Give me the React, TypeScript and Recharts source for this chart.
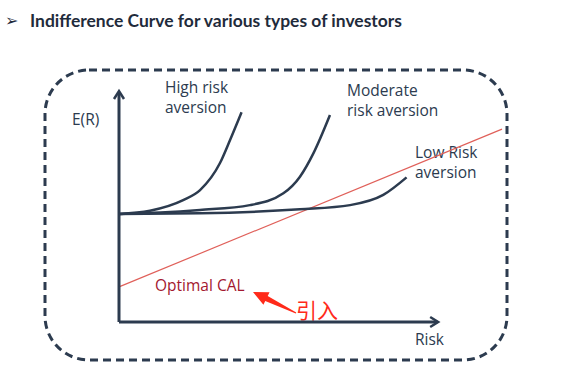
import { ComposedChart, Line, XAxis, YAxis, ReferenceLine, Customized } from 'recharts'

// risk (x) / expected return (y), arbitrary units
const riskHigh = [0, 0.97, 2.01, 2.54, 3.16, 3.48, 3.84]
const retHigh = [4.68, 4.82, 5.28, 5.71, 6.87, 7.88, 9.08]

const riskModerate = [0, 1.3, 2.54, 4.1, 5.15, 5.67, 6.09, 6.61]
const retModerate = [4.68, 4.74, 4.85, 5.06, 5.57, 6.29, 7.3, 8.96]

const riskLow = [0, 2.54, 5.67, 7.24, 8.28, 9.01]
const retLow = [4.68, 4.71, 4.88, 5.06, 5.5, 6.26]

const riskCal = [0, 12]
const retCal = [1.52, 8.35]

const zip = (xs: number[], ys: number[]) => xs.map((x, i) => ({ x, y: ys[i] }))

const highData = zip(riskHigh, retHigh)
const moderateData = zip(riskModerate, retModerate)
const lowData = zip(riskLow, retLow)
const calData = zip(riskCal, retCal)

const INK = '#2c3b4f'
const FONT = '"Open Sans", sans-serif'

function ArrowLine(props: any) {
  const { x1, y1, x2, y2 } = props
  const dx = x2 - x1
  const dy = y2 - y1
  const len = Math.sqrt(dx * dx + dy * dy)
  const ux = dx / len
  const uy = dy / len
  const nx = -uy
  const ny = ux
  const hl = 8
  const hw = 5
  const bx = x2 - ux * hl
  const by = y2 - uy * hl
  return (
    <g>
      <line x1={x1} y1={y1} x2={x2 - ux * 1} y2={y2 - uy * 1} stroke={INK} strokeWidth={3} />
      <polyline
        points={`${bx + nx * hw},${by + ny * hw} ${x2},${y2} ${bx - nx * hw},${by - ny * hw}`}
        fill="none"
        stroke={INK}
        strokeWidth={2.5}
        strokeLinejoin="miter"
      />
    </g>
  )
}

function Annotations() {
  // tapered red pointer arrow
  const tx = 253, ty = 292, ex = 296, ey = 313
  const dx = tx - ex, dy = ty - ey
  const len = Math.sqrt(dx * dx + dy * dy)
  const ux = dx / len, uy = dy / len
  const nx = -uy, ny = ux
  const bx = tx - ux * 15, by = ty - uy * 15
  const pts = [
    [ex + nx * 0.6, ey + ny * 0.6],
    [bx + nx * 2.8, by + ny * 2.8],
    [bx + nx * 7, by + ny * 7],
    [tx, ty],
    [bx - nx * 7, by - ny * 7],
    [bx - nx * 2.8, by - ny * 2.8],
    [ex - nx * 0.6, ey - ny * 0.6],
  ]
    .map((p) => p.join(','))
    .join(' ')

  return (
    <g>
      <rect x={45} y={70} width={462} height={290} rx={44} ry={44} fill="none" stroke={INK} strokeWidth={3} strokeDasharray="8 5" />

      <text x={5} y={26} fontFamily='"DejaVu Sans", sans-serif' fontSize={16} fill="#1f2b3b">➢</text>
      <text x={30} y={27} fontFamily='Lato, sans-serif' fontWeight={700} fontSize={16.5} fill="#1f2b3b" textLength={372} lengthAdjust="spacingAndGlyphs">
        Indifference Curve for various types of investors
      </text>

      <g fontFamily={FONT} fontSize={15.5} fill={INK}>
        <text x={72} y={125}>E(R)</text>
        <text x={415} y={345}>Risk</text>
        <text x={165} y={93}>High risk</text>
        <text x={165} y={113}>aversion</text>
        <text x={347} y={96}>Moderate</text>
        <text x={347} y={116}>risk aversion</text>
        <text x={415} y={158}>Low Risk</text>
        <text x={415} y={178}>aversion</text>
      </g>

      <text x={155} y={291} fontFamily={FONT} fontSize={15.5} fill="#a3182f">Optimal CAL</text>
      <polygon points={pts} fill="#ff2a1a" />
      <text x={296} y={318} fontFamily='"Noto Sans CJK SC", sans-serif' fontSize={21} fill="#ff2a1a">引入</text>
    </g>
  )
}

export default function App() {
  return (
    <div style={{ position: 'absolute', left: 0, top: 0, width: 581, height: 373, background: '#fff' }}>
      <ComposedChart width={581} height={373} margin={{ top: 91, right: 79, bottom: 51, left: 119 }}>
        <XAxis type="number" dataKey="x" domain={[0, 12]} hide />
        <YAxis type="number" dataKey="y" domain={[0, 10]} hide />
        <Customized component={<Annotations />} />
        <Line data={calData} dataKey="y" type="linear" stroke="#e0605a" strokeWidth={1.2} dot={false} isAnimationActive={false} />
        <Line data={highData} dataKey="y" type="monotone" stroke={INK} strokeWidth={2.5} dot={false} isAnimationActive={false} />
        <Line data={moderateData} dataKey="y" type="monotone" stroke={INK} strokeWidth={2.5} dot={false} isAnimationActive={false} />
        <Line data={lowData} dataKey="y" type="monotone" stroke={INK} strokeWidth={2.5} dot={false} isAnimationActive={false} />
        <ReferenceLine segment={[{ x: 0, y: 0 }, { x: 0, y: 10 }]} shape={ArrowLine} ifOverflow="visible" />
        <ReferenceLine segment={[{ x: 0, y: 0 }, { x: 10, y: 0 }]} shape={ArrowLine} ifOverflow="visible" />
      </ComposedChart>
    </div>
  )
}
